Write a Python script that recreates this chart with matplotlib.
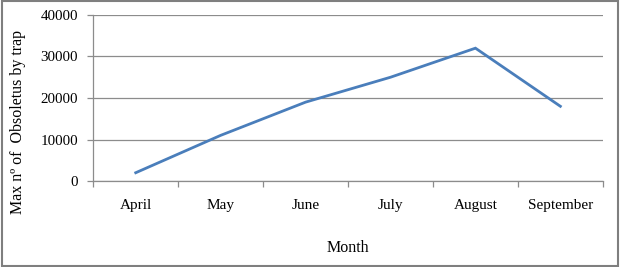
import matplotlib
matplotlib.use("Agg")
from matplotlib import pyplot as plt
from matplotlib.patches import Rectangle
import numpy as np

months = ['April', 'May', 'June', 'July', 'August', 'September']
max_obsoletus = [2000, 11000, 19000, 25000, 32000, 18000]
y_ticks = [0, 10000, 20000, 30000, 40000]

plt.rcParams['font.family'] = ['Liberation Serif', 'DejaVu Serif']

fig = plt.figure(figsize=(6.26, 2.67), dpi=100)
ax = fig.add_axes([0.149, 0.322, 0.814, 0.622])

x = np.arange(len(months))
ax.plot(x, max_obsoletus, color='#4a7ebb', linewidth=2.0, solid_joinstyle='miter', zorder=3)

ax.set_xlim(-0.5, len(months) - 0.5)
ax.set_ylim(0, 40000)
ax.set_yticks(y_ticks)
ax.set_yticklabels([str(v) for v in y_ticks], fontsize=10.8)
ax.grid(axis='y', color='#8c8c8c', linewidth=0.9)

ax.set_xticks(x)
ax.set_xticklabels(months, fontsize=11)
ax.tick_params(axis='x', which='major', length=0, pad=13)
ax.set_xticks(np.arange(len(months) + 1) - 0.5, minor=True)
ax.tick_params(axis='x', which='minor', length=4, color='#8c8c8c', width=0.9)
ax.tick_params(axis='y', length=4, color='#8c8c8c', width=0.9, pad=7)

for side in ['top', 'right']:
    ax.spines[side].set_visible(False)
for side in ['left', 'bottom']:
    ax.spines[side].set_color('#8c8c8c')
    ax.spines[side].set_linewidth(0.9)

ax.set_xlabel('Month', fontsize=11.5, labelpad=20)
fig.text(18 / 626, 1 - 122 / 267, 'Max n\u00ba of  Obsoletus by trap', fontsize=11.5,
         rotation=90, ha='center', va='center')

fig.patches.append(Rectangle((0.003, 0.005), 0.984, 0.99, transform=fig.transFigure,
                             fill=False, edgecolor='#7f7f7f', linewidth=1.5))

fig.savefig('out.png', dpi=100)
